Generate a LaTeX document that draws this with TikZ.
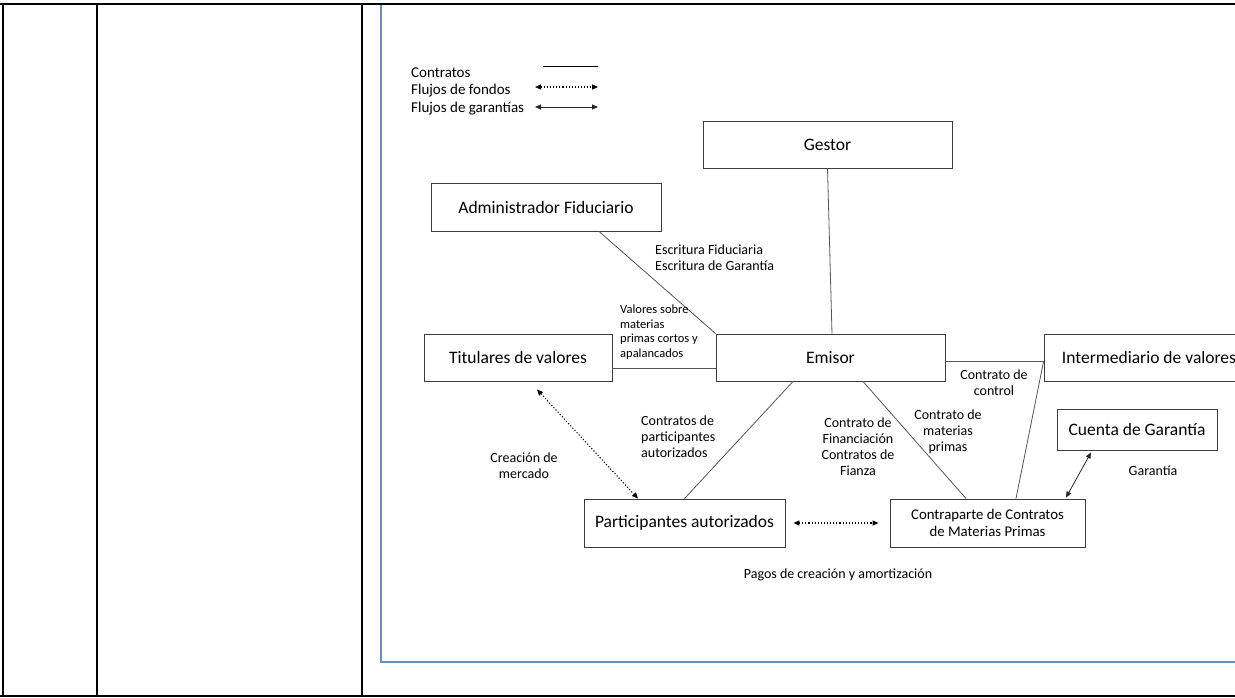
\documentclass[tikz,border=0pt]{standalone}
\usepackage{fontspec}
\setmainfont{Carlito}
\usetikzlibrary{arrows.meta,calc}
\definecolor{framebl}{RGB}{110,140,185}
\definecolor{boxline}{RGB}{60,60,60}
\definecolor{conline}{RGB}{85,85,85}
\tikzset{
  box/.style={draw=boxline,line width=0.9pt,minimum height=47pt,inner sep=0pt,font=\fontsize{17.5}{20}\selectfont},
  lab/.style={font=\fontsize{14}{16}\selectfont,inner sep=0pt,align=center},
  labl/.style={font=\fontsize{14}{16}\selectfont,inner sep=0pt,align=left,anchor=north west},
  leg/.style={font=\fontsize{15}{17}\selectfont,inner sep=0pt,anchor=west},
  smalll/.style={font=\fontsize{12.5}{14.5}\selectfont,inner sep=0pt,align=left,anchor=north west},
  con/.style={draw=conline,line width=0.8pt},
  fund/.style={draw=black,line width=1.1pt,dotted,{Triangle[length=6pt,width=5pt]}-{Triangle[length=6pt,width=5pt]}},
  guar/.style={draw=black!85,line width=0.8pt,{Triangle[length=6pt,width=5pt]}-{Triangle[length=6pt,width=5pt]}},
  tab/.style={draw=black,line width=2.2pt},
}
\begin{document}
\begin{tikzpicture}[x=1pt,y=-1pt]
\useasboundingbox (0,0) rectangle (1235,698);
\clip (0,0) rectangle (1235,698);
% table
\draw[tab] (-5,4) -- (1245,4);
\draw[tab] (-5,696) -- (1245,696);
\draw[tab] (3,4) -- (3,696);
\draw[tab] (97,4) -- (97,696);
\draw[tab] (362,4) -- (362,696);
% inner frame
\draw[framebl,line width=1.3pt] (381,5) -- (381,662) -- (1245,662);
% legend
\node[leg] (lc) at (411,73) {Contratos};
\node[leg] (lf) at (411,90.5) {Flujos de fondos};
\node[leg] (lg) at (411,108.5) {Flujos de garantías};
\coordinate (lc1) at (543,66); \coordinate (lc2) at (598,66);
\coordinate (lf1) at (535,87); \coordinate (lf2) at (598,87);
\coordinate (lg1) at (535,107); \coordinate (lg2) at (598,107);
\draw[draw=black,line width=0.8pt] (lc1) -- (lc2);
\draw[fund] (lf1) -- (lf2);
\draw[guar] (lg1) -- (lg2);
% nodes
\node[box,minimum width=249pt] (gestor) at (827.5,144.5) {Gestor};
\node[box,minimum width=230pt,minimum height=48pt] (admin) at (546,207) {Administrador Fiduciario};
\node[box,minimum width=188pt] (tit) at (518,357.5) {Titulares de valores};
\node[box,minimum width=229pt] (emisor) at (830.5,357.5) {Emisor};
\node[box,minimum width=210pt] (inter) at (1149,357.5) {Intermediario de valores};
\node[box,minimum width=160pt,minimum height=41pt] (cuenta) at (1137,429.5) {Cuenta de Garantía};
\node[box,minimum width=201pt,minimum height=48pt] (part) at (684.5,523) {Participantes autorizados};
\node[box,minimum width=195pt,minimum height=48pt,font=\fontsize{14.8}{17}\selectfont,align=center] (contra) at (987.5,523) {Contraparte de Contratos\\de Materias Primas};
% connectors
\draw[con] (gestor.south) -- ([xshift=1.5pt]emisor.north);
\draw[con] ([xshift=53pt]admin.south) -- (emisor.north west);
\draw[con] ([yshift=-10.5pt]tit.east) -- ([yshift=-10.5pt]emisor.west);
\draw[con] ([yshift=-4pt]emisor.east) -- ([yshift=-4pt]inter.west);
\draw[con] ([xshift=28.5pt]contra.north) -- ([yshift=-4pt]inter.west);
\draw[con] ([xshift=-37.5pt]emisor.south) -- (part.north);
\draw[con] ([xshift=32.5pt]emisor.south) -- ([xshift=-21.5pt]contra.north);
\draw[fund] ([xshift=19pt,yshift=-8pt]tit.south) -- ([xshift=-46.5pt]part.north);
\draw[fund] ([xshift=8pt]part.east) -- ([xshift=-11pt]contra.west);
\draw[guar] ([xshift=-46pt,yshift=-2pt]cuenta.south) -- ([xshift=78.5pt,yshift=1pt]contra.north);
% labels
\node[labl] (l1) at (655,245) {Escritura Fiduciaria\\Escritura de Garantía};
\node[smalll] (l2) at (620,305) {Valores sobre\\materias\\primas cortos y\\apalancados};
\node[lab] (l3) at (994,383) {Contrato de\\control};
\node[labl] (l4) at (641,416) {Contratos de\\participantes\\autorizados};
\node[lab] (l5) at (524,465.5) {Creación de\\mercado};
\node[lab] (l6) at (858,447) {Contrato de\\Financiación\\Contratos de\\Fianza};
\node[lab] (l7) at (948,432) {Contrato de\\materias\\primas};
\node[lab] (l8) at (1153,471) {Garantía};
\node[lab] (l9) at (838,575) {Pagos de creación y amortización};
\end{tikzpicture}
\end{document}
